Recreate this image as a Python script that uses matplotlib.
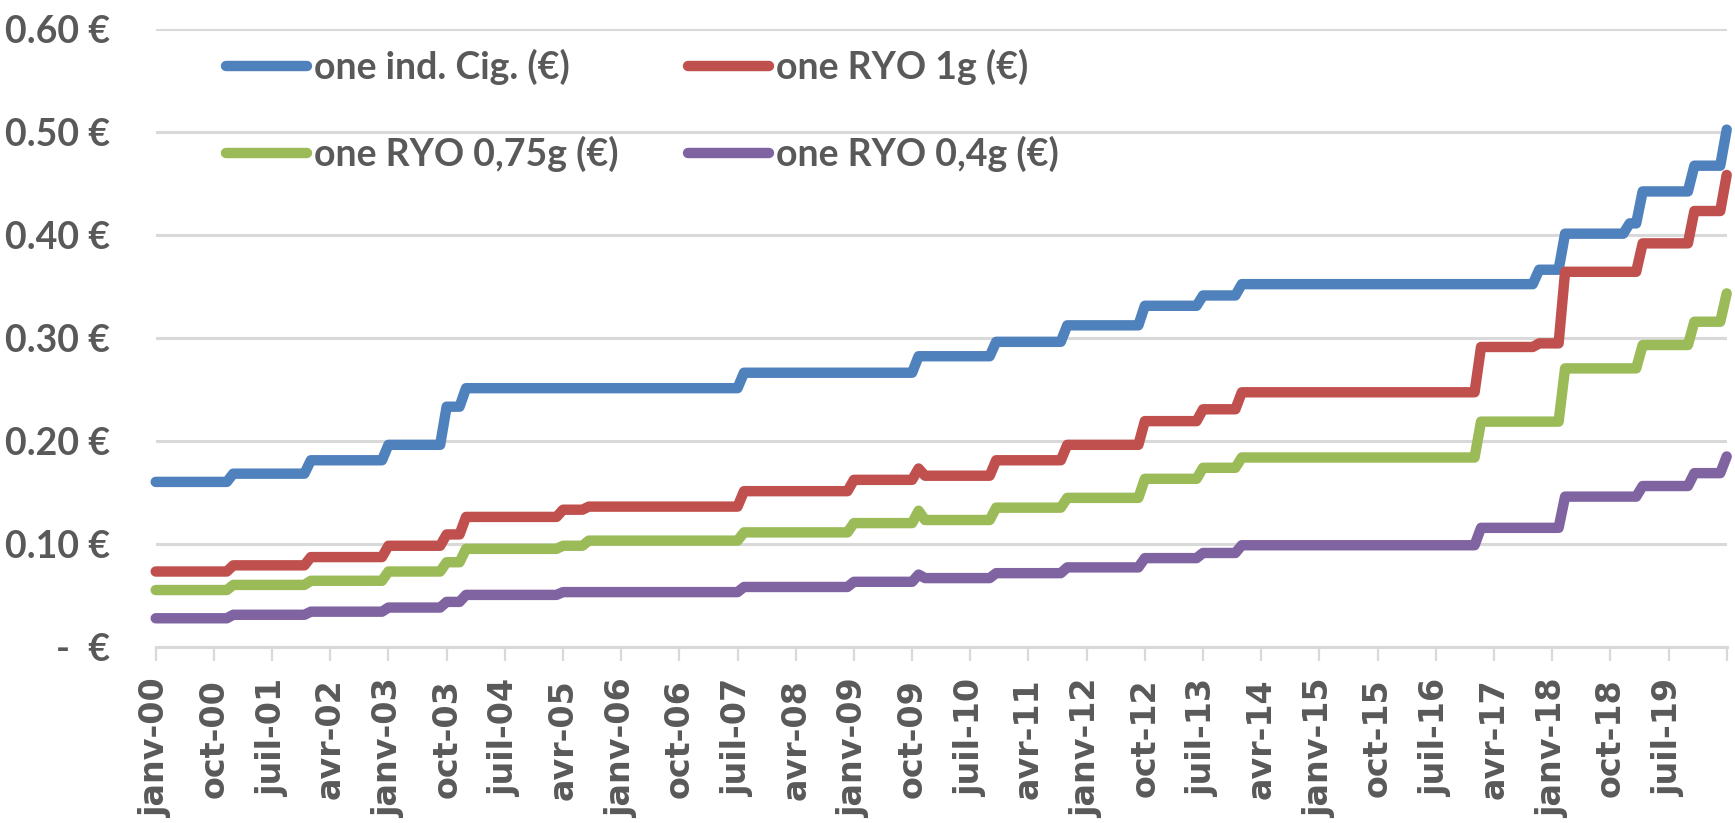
import numpy as np
import matplotlib
matplotlib.use("Agg")
import matplotlib.pyplot as plt
from matplotlib.font_manager import FontProperties

# ---------------- data (monthly, Jan 2000 .. Apr 2020) ----------------
# run-length encoded monthly prices: value held for N months
cig_values = [0.160, 0.168, 0.181, 0.196, 0.233, 0.251, 0.266, 0.282, 0.296, 0.312,
              0.331, 0.341, 0.352, 0.366, 0.401, 0.411, 0.442, 0.467, 0.502]
cig_months = [12, 12, 12, 9, 3, 43, 27, 12, 11, 12, 9, 6, 46, 4, 10, 2, 8, 5, 1]

ryo1_values = [0.073, 0.079, 0.087, 0.098, 0.109, 0.126, 0.133, 0.136, 0.151, 0.162,
               0.173, 0.166, 0.181, 0.196, 0.219, 0.2305, 0.247, 0.291, 0.2945, 0.364,
               0.3916, 0.423, 0.458]
ryo1_months = [12, 12, 12, 9, 3, 15, 4, 24, 17, 10, 1, 11, 11, 12, 9, 6, 37, 9, 4, 12, 8, 5, 1]

ryo075_values = [0.055, 0.060, 0.064, 0.073, 0.082, 0.095, 0.098, 0.103, 0.111, 0.120,
                 0.132, 0.123, 0.135, 0.1445, 0.163, 0.1737, 0.1837, 0.2185, 0.2702,
                 0.2929, 0.3155, 0.343]
ryo075_months = [12, 12, 12, 9, 3, 15, 4, 24, 17, 10, 1, 11, 11, 12, 9, 6, 37, 13, 12, 8, 5, 1]

ryo04_values = [0.0276, 0.031, 0.034, 0.038, 0.0435, 0.0503, 0.053, 0.058, 0.063, 0.070,
                0.0666, 0.0714, 0.077, 0.086, 0.091, 0.0985, 0.1154, 0.1457, 0.156,
                0.1685, 0.1847]
ryo04_months = [12, 12, 12, 9, 3, 15, 28, 17, 10, 1, 11, 11, 12, 9, 6, 37, 13, 12, 8, 5, 1]

series_names = ["one ind. Cig. (€)", "one RYO 1g (€)", "one RYO 0,75g (€)", "one RYO 0,4g (€)"]
series_colors = ["#4F81BD", "#C0504D", "#9BBB59", "#8064A2"]

x_tick_labels = ["janv-00", "oct-00", "juil-01", "avr-02", "janv-03", "oct-03", "juil-04",
                 "avr-05", "janv-06", "oct-06", "juil-07", "avr-08", "janv-09", "oct-09",
                 "juil-10", "avr-11", "janv-12", "oct-12", "juil-13", "avr-14", "janv-15",
                 "oct-15", "juil-16", "avr-17", "janv-18", "oct-18", "juil-19", ""]
y_ticks = [0.0, 0.1, 0.2, 0.3, 0.4, 0.5, 0.6]
y_tick_labels = ["-  €", "0.10 €", "0.20 €", "0.30 €", "0.40 €", "0.50 €", "0.60 €"]

# ---------------- build ----------------
cig = np.repeat(cig_values, cig_months)
ryo1 = np.repeat(ryo1_values, ryo1_months)
ryo075 = np.repeat(ryo075_values, ryo075_months)
ryo04 = np.repeat(ryo04_values, ryo04_months)
months = np.arange(len(cig))

W, H = 1735, 823
fig = plt.figure(figsize=(W / 100, H / 100), dpi=100)
ax = fig.add_axes([155.7 / W, 1 - 646.7 / H, (1726.7 - 155.7) / W, (646.7 - 28.7) / H])

grey = "#D9D9D9"
txt = "#595959"

ax.set_ylim(0, 0.6)
ax.set_xlim(0, len(cig) - 1)
ax.set_yticks(y_ticks)
ax.yaxis.grid(True, color=grey, lw=2.2, zorder=0)
ax.set_axisbelow(True)
for s in ["top", "right", "left"]:
    ax.spines[s].set_visible(False)
ax.spines["bottom"].set_color(grey)
ax.spines["bottom"].set_linewidth(2.2)

handles = []
for data, name, col in zip([cig, ryo1, ryo075, ryo04], series_names, series_colors):
    ln, = ax.plot(months, data, color=col, lw=7.5, solid_capstyle="round",
                  solid_joinstyle="round", label=name, clip_on=False, zorder=3)
    handles.append(ln)

lato_y = FontProperties(family="Lato", weight="bold", size=27)
lato_leg = FontProperties(family="Lato", weight="bold", size=27)
ax.set_yticklabels(y_tick_labels, fontproperties=lato_y, color=txt)
ax.tick_params(axis="y", length=0, pad=33)

ax.set_xticks(np.arange(0, len(cig), 9))
ax.set_xticklabels(x_tick_labels, rotation=90, ha="center", va="top",
                   fontfamily="DejaVu Sans", fontweight="bold", fontsize=24, color=txt)
ax.tick_params(axis="x", direction="out", length=10, width=1.6, color=grey, pad=13)

leg = ax.legend(handles=[handles[0], handles[2], handles[1], handles[3]], ncol=2,
                loc="upper left", bbox_to_anchor=(226 / W, 1 - 49 / H),
                bbox_transform=fig.transFigure, frameon=False, prop=lato_leg,
                labelcolor=txt, handlelength=2.15, handletextpad=0.2,
                columnspacing=1.85, labelspacing=1.35, borderpad=0, borderaxespad=0)

fig.savefig("out.png", dpi=100)
